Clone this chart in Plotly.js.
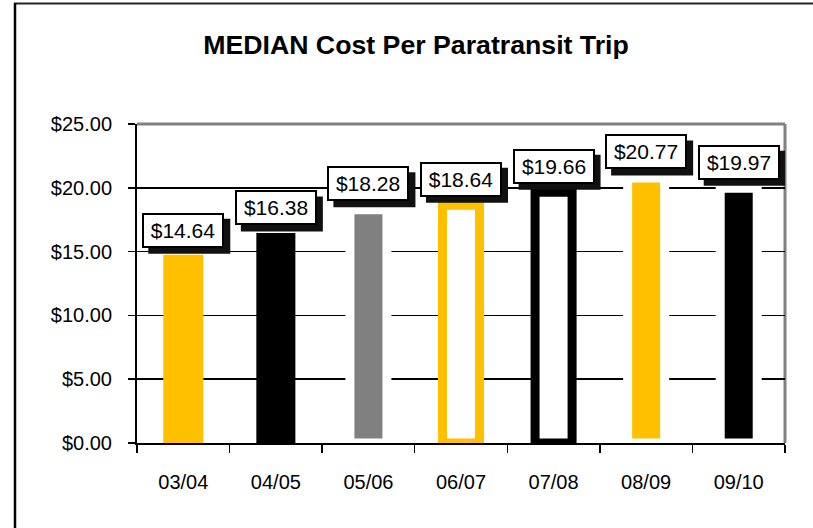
<!DOCTYPE html>
<html>
<head>
<meta charset="utf-8">
<script src="https://cdn.plot.ly/plotly-3.0.1.min.js"></script>
<style>
  html, body { margin: 0; padding: 0; background: #ffffff; }
  #chart { width: 813px; height: 528px; }
</style>
</head>
<body>
<div id="chart"></div>
<script>
// ---- data ----
const categories = ['03/04', '04/05', '05/06', '06/07', '07/08', '08/09', '09/10'];
const medianCost = [14.64, 16.38, 18.28, 18.64, 19.66, 20.77, 19.97];
const valueLabels = ['$14.64', '$16.38', '$18.28', '$18.64', '$19.66', '$20.77', '$19.97'];
const yTickValues = [0, 5, 10, 15, 20, 25];
const yTickLabels = ['$0.00', '$5.00', '$10.00', '$15.00', '$20.00', '$25.00'];

// ---- styles ----
const YELLOW = '#FFC000';
const fillColors = [YELLOW, '#000000', '#808080', '#FFFFFF', '#FFFFFF', YELLOW, '#000000'];
const edgeColors = [YELLOW, '#000000', '#FFFFFF', YELLOW, '#000000', '#FFFFFF', '#FFFFFF'];
const edgeWidths = [3, 2, 9, 9, 9, 9, 9];

const FONT = 'Arial, "Liberation Sans", Helvetica, sans-serif';

// geometry helpers for frame lines (paper coords relative to plot area)
const M = { l: 137, r: 28, t: 124, b: 85 };
const PW = 813 - M.l - M.r, PH = 528 - M.t - M.b;
const px = x => (x - M.l) / PW;
const py = y => (528 - M.b - y) / PH;

const trace = {
  type: 'bar',
  x: categories,
  y: medianCost,
  width: 0.4,
  marker: { color: fillColors, line: { color: edgeColors, width: edgeWidths } },
  hoverinfo: 'x+y',
  showlegend: false
};

// boxed value labels
const annotations = categories.map((c, i) => ({
  x: c, y: medianCost[i], xref: 'x', yref: 'y',
  text: valueLabels[i], showarrow: false,
  xanchor: 'center', yanchor: 'bottom',
  yshift: 8.5,
  width: 78, height: 31, borderpad: 0, borderwidth: 2,
  bgcolor: '#FFFFFF', bordercolor: '#000000',
  font: { family: FONT, size: 21, color: '#000000' }
}));

// drop shadows behind label boxes (pixel-sized, anchored at each value)
const shadowShapes = categories.map((c, i) => ({
  type: 'rect', xref: 'x', yref: 'y',
  xsizemode: 'pixel', ysizemode: 'pixel',
  xanchor: i, yanchor: medianCost[i],
  x0: -35, x1: 47, y0: 2.5, y1: 37.5,
  fillcolor: '#111111', line: { width: 0 }, layer: 'above'
}));

const shapes = [
  // plot area top and right borders (gray)
  { type: 'line', xref: 'paper', yref: 'paper', x0: 0, x1: 1, y0: 1, y1: 1,
    line: { color: '#808080', width: 3 }, layer: 'below' },
  { type: 'line', xref: 'paper', yref: 'paper', x0: 1, x1: 1, y0: 0, y1: 1,
    line: { color: '#808080', width: 3 }, layer: 'below' },
  // outer picture frame (top and left)
  { type: 'line', xref: 'paper', yref: 'paper', x0: px(14), x1: px(815), y0: py(3.5), y1: py(3.5),
    line: { color: '#222222', width: 2 } },
  { type: 'line', xref: 'paper', yref: 'paper', x0: px(15), x1: px(15), y0: py(3), y1: py(530),
    line: { color: '#000000', width: 2.5 } }
].concat(shadowShapes);

const layout = {
  width: 813, height: 528,
  margin: M,
  paper_bgcolor: '#FFFFFF', plot_bgcolor: '#FFFFFF',
  font: { family: FONT, color: '#000000' },
  title: {
    text: '<b>MEDIAN Cost Per Paratransit Trip</b>',
    font: { family: FONT, size: 26.7, color: '#000000' },
    x: 416 / 813, xref: 'container', xanchor: 'center',
    y: 1 - 45 / 528, yref: 'container', yanchor: 'middle'
  },
  xaxis: {
    type: 'category',
    tickson: 'boundaries',
    ticks: 'outside', ticklen: 8, tickwidth: 1.5, tickcolor: '#000000',
    showline: true, linecolor: '#000000', linewidth: 2,
    showgrid: false,
    tickfont: { family: FONT, size: 20, color: '#000000' },
    ticklabelstandoff: 20,
    range: [-0.5, 6.5]
  },
  yaxis: {
    range: [0, 25],
    tickmode: 'array',
    tickvals: yTickValues,
    ticktext: yTickLabels,
    ticks: 'outside', ticklen: 7, tickwidth: 1.5, tickcolor: '#000000',
    showline: true, linecolor: '#000000', linewidth: 2,
    showgrid: true, gridcolor: '#000000', gridwidth: 1.5,
    zeroline: false,
    tickfont: { family: FONT, size: 20, color: '#000000' },
    ticklabelstandoff: 12
  },
  bargap: 0.6,
  annotations: annotations,
  shapes: shapes
};

Plotly.newPlot('chart', [trace], layout, { displayModeBar: false, staticPlot: true });
</script>
</body>
</html>
